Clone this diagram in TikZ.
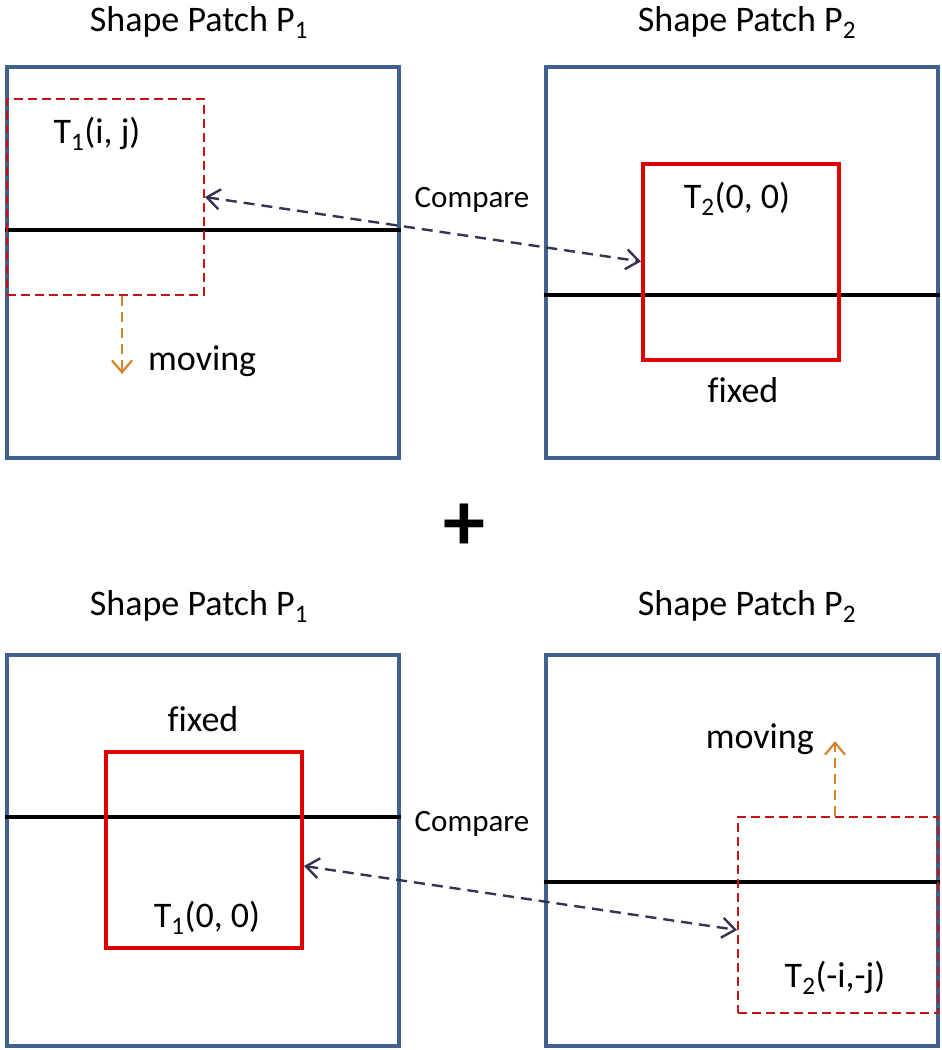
\documentclass[tikz,border=0pt]{standalone}
\usepackage{fontspec}
\setmainfont{Carlito}[Ligatures=CommonOff]
\usetikzlibrary{arrows.meta}
\definecolor{patchblue}{RGB}{64,97,140}
\definecolor{winred}{RGB}{222,0,0}
\definecolor{dashred}{RGB}{196,20,20}
\definecolor{moveorange}{RGB}{214,132,44}
\definecolor{cmpnavy}{RGB}{52,52,82}
\tikzset{
  patch/.style={draw=patchblue, line width=4pt, minimum width=392pt, minimum height=391pt, inner sep=0pt},
  fixedwin/.style={draw=winred, line width=4pt, minimum width=196pt, minimum height=196pt, inner sep=0pt},
  movewin/.style={draw=dashred, line width=1.8pt, dash pattern=on 9pt off 5pt, minimum height=196pt, inner sep=0pt},
  axisline/.style={black, line width=4.5pt},
  cmparrow/.style={cmpnavy, line width=2.4pt, dash pattern=on 11pt off 7pt, {Straight Barb[length=13pt,width=20pt]}-{Straight Barb[length=13pt,width=20pt]}},
  movearrow/.style={moveorange, line width=2.2pt, dash pattern=on 10pt off 6pt, -{Straight Barb[length=12pt,width=20pt]}},
  lbl/.style={font=\fontsize{36}{43}\selectfont, anchor=base, inner sep=0pt},
}
\begin{document}
\begin{tikzpicture}[x=1pt, y=-1pt]
\useasboundingbox (0,0) rectangle (942,1050);
% upper pair: T1 moves, T2 stays
\node[patch] (p1a) at (203,262.5) {};
\node[patch] (p2a) at (741.5,262.5) {};
\draw[axisline] ([yshift=32.5pt]p1a.west) -- ([yshift=32.5pt]p1a.east);
\draw[axisline] ([yshift=-32.5pt]p2a.west) -- ([yshift=-32.5pt]p2a.east);
\node[movewin, minimum width=197pt] (t1a) at (105.5,197) {};
\node[fixedwin] (t2a) at (741,261.5) {};
\node[lbl] (title1a) at (199,31) {Shape Patch P\textsubscript{1}};
\node[lbl] (title2a) at (747,31) {Shape Patch P\textsubscript{2}};
\node[lbl] (lt1a) at (97,143) {T\textsubscript{1}(i, j)};
\node[lbl] (lt2a) at (737,208) {T\textsubscript{2}(0, 0)};
\node[lbl] (fixa) at (743,402) {fixed};
\node[lbl, anchor=base west] (mova) at (148,370) {moving};
\node[lbl, font=\fontsize{31}{37}\selectfont] (cmpa) at (472,207) {Compare};
\coordinate (mv1) at (122,374);
\draw[movearrow] (mv1 |- t1a.south) -- (mv1);
\draw[cmparrow] (t1a.east) -- (t2a.west);

\node[font=\bfseries\fontsize{84}{84}\selectfont, inner sep=0pt] (plus) at (464,527) {+};

% lower pair: T1 stays, T2 moves
\node[patch] (p1b) at (203,850) {};
\node[patch] (p2b) at (741.5,850) {};
\draw[axisline] ([yshift=33pt]p1b.west) -- ([yshift=33pt]p1b.east);
\draw[axisline] ([yshift=-32pt]p2b.west) -- ([yshift=-32pt]p2b.east);
\node[fixedwin] (t1b) at (204,850) {};
\node[movewin, minimum width=200pt] (t2b) at (838,915) {};
\node[lbl] (title1b) at (199,615) {Shape Patch P\textsubscript{1}};
\node[lbl] (title2b) at (747,615) {Shape Patch P\textsubscript{2}};
\node[lbl] (fixb) at (203,731) {fixed};
\node[lbl] (lt1b) at (207,927) {T\textsubscript{1}(0, 0)};
\node[lbl] (lt2b) at (835,987) {T\textsubscript{2}(-i,-j)};
\node[lbl, anchor=base east] (movb) at (814,748) {moving};
\node[lbl, font=\fontsize{31}{37}\selectfont] (cmpb) at (472,831) {Compare};
\coordinate (mv2) at (835,741);
\draw[movearrow] (mv2 |- t2b.north) -- (mv2);
\draw[cmparrow] ([yshift=-16pt]t1b.east) -- ([yshift=-15pt]t2b.west);
\end{tikzpicture}
\end{document}
